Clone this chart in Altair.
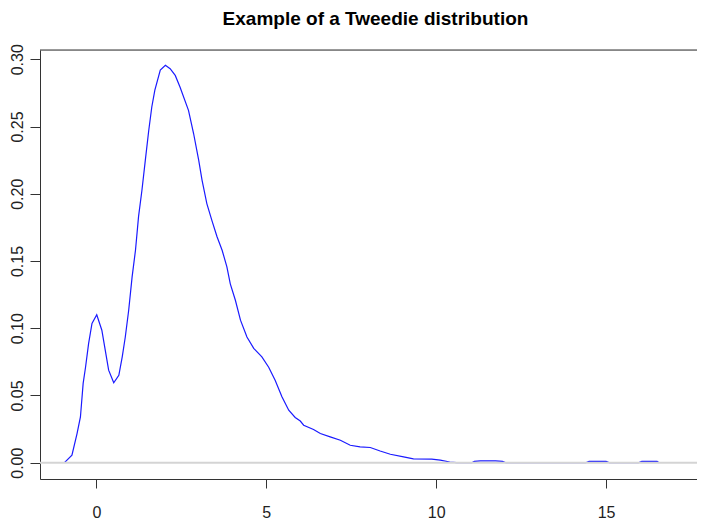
import altair as alt
import pandas as pd

# density curve
xs = [-0.94, -0.72, -0.57, -0.47, -0.39, -0.32, -0.23, -0.13, 0.01, 0.16, 0.26, 0.36,
      0.51, 0.66, 0.76, 0.85, 0.95, 1.05, 1.15, 1.24, 1.34, 1.44, 1.54, 1.63, 1.72,
      1.88, 2.03, 2.17, 2.32, 2.46, 2.71, 2.86, 3.01, 3.11, 3.25, 3.40, 3.55, 3.70,
      3.84, 3.94, 4.09, 4.24, 4.43, 4.63, 4.87, 5.07, 5.26, 5.46, 5.66, 5.85, 6.00,
      6.10, 6.39, 6.59, 6.88, 7.18, 7.47, 7.76, 8.06, 8.35, 8.65, 9.04, 9.33, 9.87,
      10.12, 10.40, 10.60, 11.05, 11.12, 11.30, 11.50, 11.75, 11.95, 12.05, 14.40,
      14.50, 15.00, 15.10, 15.95, 16.05, 16.50, 16.56]
ys = [0.0, 0.0056, 0.0217, 0.034, 0.059, 0.071, 0.0886, 0.1035, 0.110, 0.0985, 0.0837,
      0.0688, 0.0594, 0.065, 0.0787, 0.0935, 0.1134, 0.138, 0.158, 0.183, 0.2026, 0.225,
      0.247, 0.2645, 0.277, 0.292, 0.2955, 0.293, 0.288, 0.2794, 0.262, 0.2448, 0.225,
      0.210, 0.1927, 0.180, 0.168, 0.158, 0.1456, 0.133, 0.1208, 0.106, 0.0935, 0.085,
      0.0787, 0.071, 0.0613, 0.049, 0.039, 0.0336, 0.031, 0.0279, 0.0247, 0.0217,
      0.0192, 0.0167, 0.013, 0.0118, 0.0113, 0.0087, 0.0063, 0.0043, 0.0028, 0.0026,
      0.0019, 0.0005, 0.0, 0.0, 0.001, 0.0013, 0.0014, 0.0013, 0.001, 0.0, 0.0,
      0.001, 0.001, 0.0, 0.0, 0.001, 0.001, 0.0]

x_ticks = [0, 5, 10, 15]
y_ticks = [0.0, 0.05, 0.10, 0.15, 0.20, 0.25, 0.30]
x_domain = [-1.660, 17.675]
y_domain = [-0.01212, 0.3069]
title_text = "Example of a Tweedie distribution"

df = pd.DataFrame({"x": xs, "y": ys})
zero = pd.DataFrame({"y": [0.0]})
one = pd.DataFrame({"a": [0]})

FONT = "Liberation Sans"
AX = "#333333"

xenc = alt.X("x:Q", scale=alt.Scale(domain=x_domain, nice=False, zero=False),
             axis=alt.Axis(values=x_ticks, title=None, grid=False, format="d",
                           tickSize=9, labelPadding=29, labelBaseline="alphabetic",
                           labelFont=FONT, labelFontSize=16, labelColor="#222222",
                           domainColor=AX, tickColor=AX, labelFlush=False))
yenc = alt.Y("y:Q", scale=alt.Scale(domain=y_domain, nice=False, zero=False),
             axis=alt.Axis(values=y_ticks, title=None, grid=False, format=".2f",
                           tickSize=10, labelPadding=8, labelAngle=270,
                           labelAlign="center", labelBaseline="alphabetic",
                           labelFont=FONT, labelFontSize=16, labelColor="#222222",
                           domainColor=AX, tickColor=AX, labelFlush=False))

line = alt.Chart(df).mark_line(color="#1a1aff", strokeWidth=1.2, clip=True).encode(
    x=xenc, y=yenc)

zline = alt.Chart(zero).mark_rule(color="#d4d4d4", strokeWidth=2).encode(y="y:Q")

top = alt.Chart(one).mark_rule(color=AX, strokeWidth=1).encode(y=alt.value(0))

chart = alt.layer(line, zline, top).properties(
    width=657, height=429,
    title=alt.TitleParams(title_text, anchor="middle", font=FONT, fontSize=19,
                          fontWeight="bold", color="#000000", baseline="alphabetic",
                          offset=0, dx=7),
    autosize=alt.AutoSizeParams(type="none"),
    padding={"left": 32, "top": 42, "right": 0, "bottom": 40},
).configure_view(strokeWidth=0).configure(background="white")

chart.save("out.html", embed_options={"renderer": "svg", "actions": False})
